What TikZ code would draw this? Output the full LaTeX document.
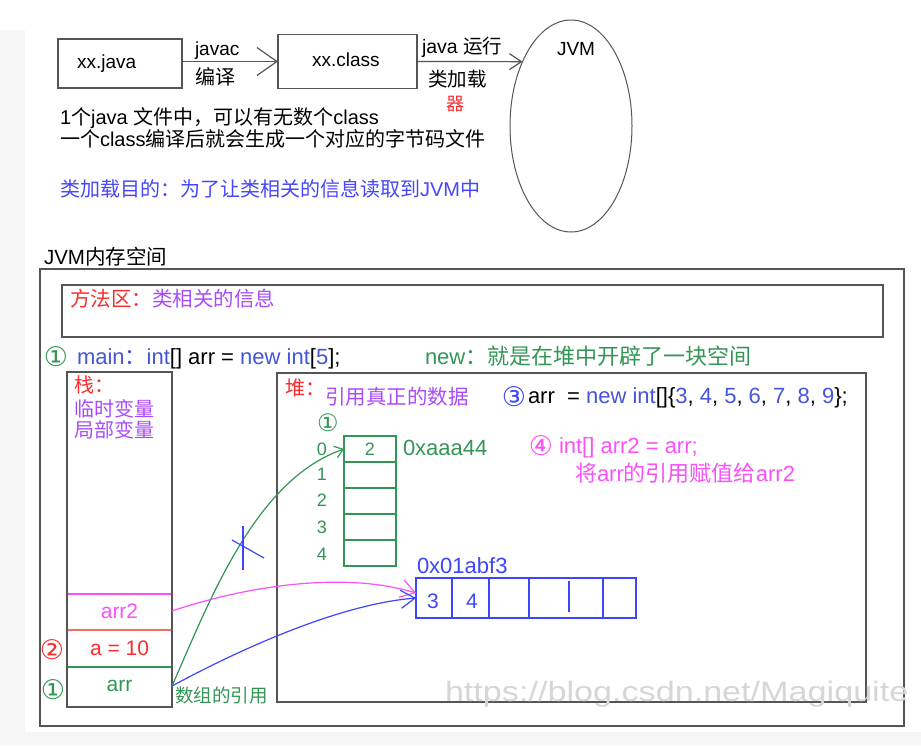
\documentclass[tikz,border=0pt]{standalone}
\usepackage{fontspec}
\setmainfont{Liberation Sans}
\newfontfamily\cjk{Noto Sans CJK SC}
\newfontfamily\symf{DejaVu Sans}
\usetikzlibrary{arrows.meta,shapes.geometric}
\newcommand\zh[1]{{\cjk #1}}
\newcommand\cn[1]{{\symf\fontsize{27}{27}\selectfont #1}}
\newcommand\fs[1]{\fontsize{#1}{#1}\selectfont}
\definecolor{boxgray}{RGB}{85,85,85}
\definecolor{mygreen}{RGB}{50,150,85}
\definecolor{codeblue}{RGB}{70,85,215}
\definecolor{arrblue}{RGB}{60,70,250}
\definecolor{mypurple}{RGB}{170,75,250}
\definecolor{mypink}{RGB}{250,80,250}
\definecolor{myred}{RGB}{250,45,45}
\definecolor{salmon}{RGB}{245,110,100}
\definecolor{topblue}{RGB}{70,70,250}
\definecolor{bggray}{RGB}{246,246,246}
\begin{document}
\begin{tikzpicture}[x=1pt,y=-1pt,
  font=\fs{20.5},
  every node/.style={inner sep=0pt, outer sep=0pt},
  box/.style={draw=boxgray, line width=1.3pt, rectangle},
  lbl/.style={anchor=base west},
  cell/.style={draw=mygreen, line width=1.3pt, minimum width=52pt, minimum height=26pt, font=\fs{18}, text=mygreen},
  idx/.style={font=\fs{18}, text=mygreen},
  flow/.style={draw=boxgray, line width=1.2pt},
  slot/.style={minimum width=105pt, font=\fs{21}},
  sep/.style={line width=1.3pt},
  curve/.style={line width=1.2pt},
]
\fill[white] (0,0) rectangle (921,745);
\fill[bggray] (0,30) rectangle (25,745);
\fill[bggray] (25,732) rectangle (921,745);
\useasboundingbox (0,0) rectangle (921,745);

% ---------- top flow ----------
\node[box, minimum width=124pt, minimum height=49pt] (java) at (120,63.5) {};
\node[lbl, font=\fs{19}] (javat) at (77,68) {xx.java};
\node[box, minimum width=139pt, minimum height=54pt] (class) at (347.5,61.5) {};
\node[lbl, font=\fs{19}] (classt) at (312,66) {xx.class};
\node[ellipse, draw=boxgray, line width=1pt, minimum width=122pt, minimum height=212pt] (jvm) at (571,126) {};
\node[lbl, font=\fs{19}] (jvmt) at (557,55) {JVM};

\draw[flow, -{Straight Barb[length=20pt,width=28pt,line width=1.2pt]}] (java.east |- class.west) -- (class.west);
\draw[flow, -{Straight Barb[length=12pt,width=16pt,line width=1.2pt]}] (class.east) -- (jvm.127);

\node[lbl, font=\fs{19}] (javac) at (195,55) {javac};
\node[lbl, font=\fs{20}] (bianyi) at (195,84) {\zh{编译}};
\node[lbl, font=\fs{19.5}] (run) at (422,53) {java \zh{运行}};
\node[lbl, font=\fs{19.5}] (load) at (428,86) {\zh{类加载}};
\node[lbl, font=\fs{18}, text=myred] (qi) at (446,110) {\zh{器}};

\node[lbl, font=\fs{20}] (l1) at (60,124) {1\zh{个}java \zh{文件中，可以有无数个}class};
\node[lbl, font=\fs{20}] (l2) at (60,146) {\zh{一个}class\zh{编译后就会生成一个对应的字节码文件}};
\node[lbl, font=\fs{20}, text=topblue] (l3) at (60,196) {\zh{类加载目的：为了让类相关的信息读取到}JVM\zh{中}};

% ---------- memory ----------
\node[lbl, font=\fs{20.5}] (memt) at (44,264) {JVM\zh{内存空间}};
\node[box, line width=1.5pt, minimum width=864pt, minimum height=457pt] (outer) at (472,497.5) {};
\node[box, minimum width=821pt, minimum height=52pt] (method) at (472.5,311) {};
\node[lbl] (methodt) at (70,306) {\zh{\textcolor{myred}{方法区：}\textcolor{mypurple}{类相关的信息}}};

\node[text=mygreen] (c1) at (56,357) {\cn{①}};
\node[lbl, font=\fs{22}, text=codeblue] (code1) at (77,364) {main\zh{：}int\textcolor{black}{[] arr = }new int\textcolor{black}{[}5\textcolor{black}{];}};
\node[lbl, font=\fs{22}, text=mygreen] (newt) at (425,364) {new\zh{：就是在堆中开辟了一块空间}};

% stack
\node[box, minimum width=105pt, minimum height=335pt] (stack) at (119.5,539.5) {};
\node[lbl, font=\fs{20}, text=myred] (zhan) at (74,392) {\zh{栈：}};
\node[lbl, font=\fs{20}, text=mypurple] (tmp) at (74,416) {\zh{临时变量}};
\node[lbl, font=\fs{20}, text=mypurple] (loc) at (74,437) {\zh{局部变量}};
\draw[sep, mypink] (68,594) -- (171,594);
\draw[sep, salmon] (68,630) -- (171,630);
\draw[sep, mygreen] (68,667) -- (171,667);
\node[slot, minimum height=36pt, text=mypink] (arr2slot) at (119.5,611) {arr2};
\node[slot, minimum height=37pt, text=myred] (aslot) at (119.5,648) {a = 10};
\node[slot, minimum height=40pt, text=mygreen] (arrslot) at (119.5,686) {arr};
\node[text=myred] (c2) at (52,650) {\cn{②}};
\node[text=mygreen] (c1b) at (53,690) {\cn{①}};
\node[lbl, font=\fs{18.5}, text=mygreen] (refl) at (175,702) {\zh{数组的引用}};

% heap
\node[box, minimum width=589pt, minimum height=329pt] (heap) at (571.5,537.5) {};
\node[lbl, font=\fs{20}, text=myred] (dui) at (285,395) {\zh{堆：}};
\node[lbl, font=\fs{20.5}, text=mypurple] (duit) at (325,404) {\zh{引用真正的数据}};
\node[text=arrblue] (c3) at (514,397) {\cn{③}};
\node[lbl, font=\fs{22}] (code3) at (528,403) {arr\ \ = \textcolor{codeblue}{new int}[]\{\textcolor{codeblue}{3}, \textcolor{codeblue}{4}, \textcolor{codeblue}{5}, \textcolor{codeblue}{6}, \textcolor{codeblue}{7}, \textcolor{codeblue}{8}, \textcolor{codeblue}{9}\};};

% green array
\node[text=mygreen, font=\fs{24}] (c1c) at (328,423) {{\symf ①}};
\node[cell] (g0) at (370,449) {2};
\node[cell] (g1) at (370,475) {};
\node[cell] (g2) at (370,501) {};
\node[cell] (g3) at (370,527) {};
\node[cell] (g4) at (370,553) {};
\node[idx] (i0) at (322,449) {0};
\node[idx] (i1) at (322,474) {1};
\node[idx] (i2) at (322,500) {2};
\node[idx] (i3) at (322,527) {3};
\node[idx] (i4) at (322,554) {4};
\node[lbl, font=\fs{22}, text=mygreen] (addr1) at (403,455) {0xaaa44};

\node[text=mypink] (c4) at (541,446) {\cn{④}};
\node[lbl, font=\fs{22}, text=mypink] (s4) at (559,453) {int[] arr2 = arr;};
\node[lbl, font=\fs{22}, text=mypink] (s4b) at (575,481) {\zh{将}arr\zh{的引用赋值给}arr2};

% blue array
\node[lbl, font=\fs{22}, text=arrblue] (addr2) at (417,573) {0x01abf3};
\node[draw=arrblue, line width=1.3pt, minimum width=220pt, minimum height=40pt] (barr) at (526,598) {};
\foreach \xx in {452,489,529,603} \draw[sep, arrblue] (\xx,578) -- (\xx,618);
\draw[sep, arrblue] (569,581) -- (569,612);
\node[font=\fs{21}, text=arrblue] (v3) at (433,601) {3};
\node[font=\fs{21}, text=arrblue] (v4) at (472,601) {4};

% references
\draw[curve, mygreen, -{Straight Barb[length=8pt,width=12pt]}] (arrslot.east) .. controls (210,600) and (255,480) .. (g0.west);
\draw[curve, mypink, -{Straight Barb[length=14pt,width=18pt]}] (arr2slot.east) .. controls (240,588) and (340,570) .. ([yshift=5pt]barr.west);
\draw[curve, arrblue, -{Straight Barb[length=14pt,width=18pt]}] (arrslot.east) .. controls (220,660) and (330,605) .. (barr.west);
\draw[curve, arrblue] (243,526) -- (243,570);
\draw[curve, arrblue] (232,540) -- (264,558);

% watermark
\node[lbl, text=black!16, font=\fs{28}] (wm) at (445,701) {\scalebox{1.22}[1]{https://blog.csdn.net/Magiquite}};
\end{tikzpicture}
\end{document}
